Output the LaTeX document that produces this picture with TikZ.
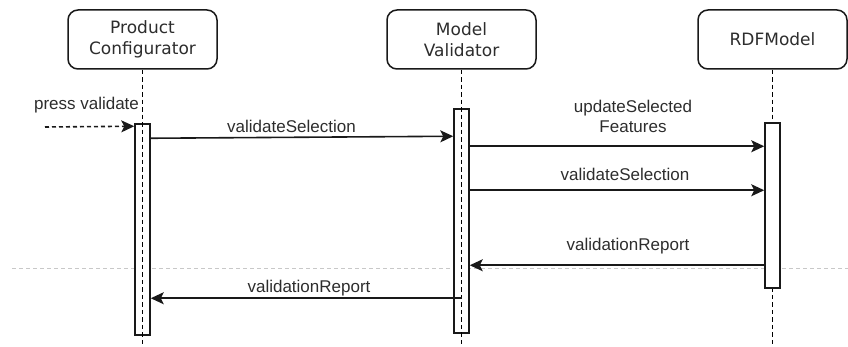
\documentclass[tikz,border=0pt]{standalone}
\usepackage{fontspec}
\setmainfont{Liberation Sans}
\newfontfamily\headfont{DejaVu Sans}
\usetikzlibrary{arrows.meta}
\definecolor{ink}{RGB}{45,45,45}
\definecolor{sepgray}{RGB}{200,200,200}
\tikzset{
  participant/.style={draw=black!90, line width=1.5pt, rounded corners=10pt, fill=white,
    minimum width=149pt, minimum height=59pt, align=center, text=ink,
    font=\headfont\fontsize{17}{20.5}\selectfont, inner sep=0pt},
  activation/.style={draw=black!90, line width=1.5pt, fill=white,
    minimum width=15pt, inner sep=0pt},
  lifeline/.style={black, line width=1.5pt, dash pattern=on 4.5pt off 3pt},
  msg/.style={black!90, line width=1.6pt, -{Stealth[length=13pt, width=12pt, inset=3pt]}},
  asyncmsg/.style={msg, dash pattern=on 4pt off 3pt},
  msglabel/.style={anchor=base, inner sep=0pt, text=ink, align=center,
    font=\fontsize{17}{20}\selectfont},
  separator/.style={sepgray, line width=1pt, dash pattern=on 4pt off 3pt}
}
\begin{document}
\begin{tikzpicture}[x=1pt, y=-1pt]
\useasboundingbox (0,0) rectangle (848,347);

% horizontal separator
\coordinate (sepL) at (12,268);
\coordinate (sepR) at (848,268);
\draw[separator] (sepL) -- (sepR);

% participants
\node[participant] (pc) at (142.5,39.5) {Product\\Configurator};
\node[participant] (mv) at (461.5,39.5) {Model\\Validator};
\node[participant] (rdf) at (772.5,39.5) {RDFModel};

% lifeline ends
\coordinate (pcEnd) at (142.5,347);
\coordinate (mvEnd) at (461.5,347);
\coordinate (rdfEnd) at (772.5,347);

% RDFModel lifeline lies beneath its activation bar
\draw[lifeline] (rdf.south) -- (rdfEnd);

% activation bars
\node[activation, minimum height=211pt] (b1) at (142.5,229.5) {};
\node[activation, minimum height=224pt] (b2) at (461.5,221) {};
\node[activation, minimum height=165pt] (b3) at (772.5,205.5) {};

% the other two lifelines run across their bars
\draw[lifeline] (pc.south) -- (pcEnd);
\draw[lifeline] (mv.south) -- (mvEnd);

% messages
\coordinate (trigger) at (45,127);
\draw[asyncmsg] (trigger) -- ([yshift=-3pt]b1.north west);
\node[msglabel] (lpress) at (86.5,110) {press validate};

\draw[msg] ([yshift=-15pt]b1.north east) -- ([yshift=-28pt]b2.north west);
\node[msglabel] (lval1) at (291.5,133) {validateSelection};

\draw[msg] ([yshift=-38pt]b2.north east) -- ([yshift=-24pt]b3.north west);
\node[msglabel] (lupd) at (633,133) {updateSelected\\Features};

\draw[msg] ([yshift=-82pt]b2.north east) -- ([yshift=-68pt]b3.north west);
\node[msglabel] (lval2) at (625,181) {validateSelection};

\draw[msg] ([yshift=-143pt]b3.north west) -- ([yshift=-157pt]b2.north east);
\node[msglabel] (lrep1) at (628,251) {validationReport};

\draw[msg] ([yshift=-190pt]b2.north) -- ([yshift=-175pt]b1.north east);
\node[msglabel] (lrep2) at (309,292) {validationReport};
\end{tikzpicture}
\end{document}
